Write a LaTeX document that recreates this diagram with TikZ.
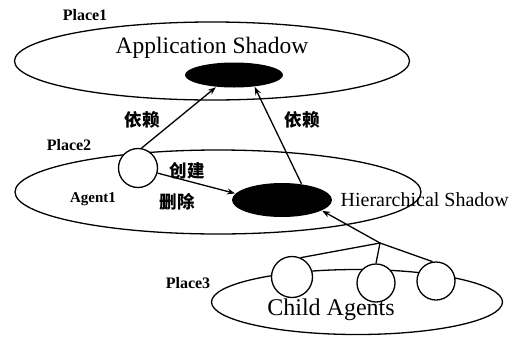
\documentclass[tikz,border=0pt]{standalone}
\usepackage{fontspec}
\setmainfont{Liberation Serif}
\newfontfamily\cjk{Noto Sans CJK SC}
\usetikzlibrary{arrows.meta,shapes.geometric}
\begin{document}
\begin{tikzpicture}[x=1pt,y=-1pt,line width=1.3pt,
  place/.style={draw,ellipse,inner sep=0pt},
  shadowbox/.style={fill=black,ellipse,inner sep=0pt},
  agentbox/.style={draw,fill=white,circle,inner sep=0pt,minimum size=39pt},
  lbl/.style={inner sep=0pt,font=\bfseries\fontsize{16}{16}\selectfont},
  big/.style={inner sep=0pt,font=\fontsize{23.5}{24}\selectfont},
  cn/.style={inner sep=0pt,font=\cjk\bfseries\fontsize{17.5}{18}\selectfont},
  arr/.style={-{Stealth[length=8pt,width=6pt]}}]
\useasboundingbox (0,0) rectangle (523,341);
\node[place,minimum width=395pt,minimum height=78pt] (p1) at (212,61) {};
\node[place,minimum width=406pt,minimum height=84pt] (p2) at (218,192) {};
\node[place,minimum width=291pt,minimum height=65pt] (p3) at (357,302) {};
\node[shadowbox,minimum width=98pt,minimum height=25pt] (appsh) at (234,75) {};
\node[shadowbox,minimum width=100pt,minimum height=34pt] (hsh) at (282,200) {};
\node[agentbox] (agent1) at (138,168) {};
\node[agentbox,minimum size=41pt] (c1) at (292,277) {};
\node[agentbox,minimum size=38pt] (c2) at (376,283) {};
\node[agentbox,minimum size=38pt] (c3) at (436,281) {};
\coordinate (j) at (380,243);
\node[lbl] (l1) at (85,15) {Place1};
\node[big] (t1) at (212,48) {Application Shadow};
\node[cn] (d1) at (142,120) {依赖};
\node[cn] (d2) at (302,120) {依赖};
\node[lbl] (l2) at (69,145) {Place2};
\node[cn] (cj) at (187,171) {创建};
\node[cn] (sc) at (177,202) {删除};
\node[lbl,font=\bfseries\fontsize{15}{15}\selectfont] (ag) at (93,199) {Agent1};
\node[inner sep=0pt,font=\fontsize{20}{20}\selectfont,anchor=west] (hs) at (340,200) {Hierarchical Shadow};
\node[lbl] (l3) at (188,283) {Place3};
\node[big,font=\fontsize{24}{24}\selectfont] (ca) at (331,310) {Child Agents};
\draw[arr] (agent1.80) -- (appsh.214);
\draw[arr] (hsh.40) -- (appsh.-30);
\draw[arr] (agent1) -- (hsh.172);
\draw[arr] (j) -- (hsh.-15);
\draw (c1.66) -- (j) -- (c3.100);
\draw (j) -- (c2.north);
\end{tikzpicture}
\end{document}
